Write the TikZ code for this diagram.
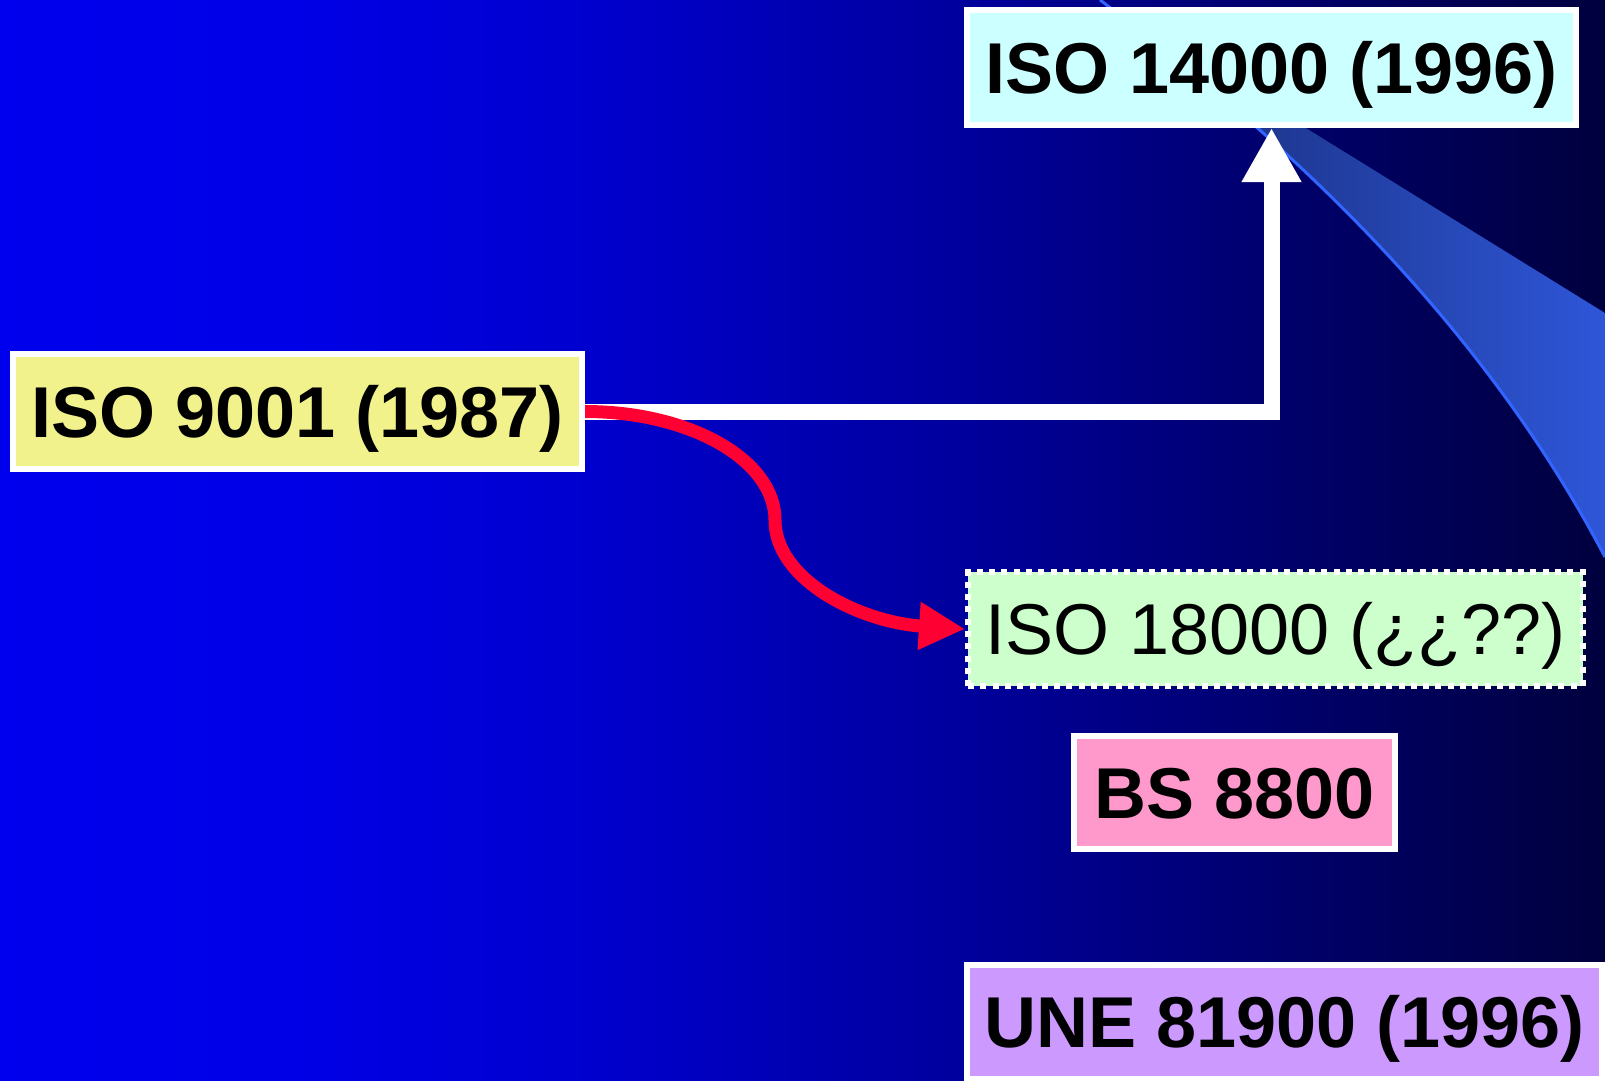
\documentclass[tikz,border=0pt]{standalone}
\usepackage{fontspec}
\setmainfont{Liberation Sans}
\usetikzlibrary{arrows.meta}
\definecolor{bgA}{RGB}{0,0,238}
\definecolor{bgB}{RGB}{0,0,230}
\definecolor{bgC}{RGB}{0,0,205}
\definecolor{bgD}{RGB}{0,0,155}
\definecolor{bgE}{RGB}{0,0,105}
\definecolor{bgF}{RGB}{0,0,62}
\definecolor{fillA}{HTML}{CCFFFF}
\definecolor{fillB}{HTML}{F2F28C}
\definecolor{fillC}{HTML}{CCFFCC}
\definecolor{fillD}{HTML}{FF99CC}
\definecolor{fillE}{HTML}{CC99FF}
\definecolor{conred}{RGB}{255,0,51}
\definecolor{swL}{RGB}{22,40,110}
\definecolor{swR}{RGB}{46,86,216}
\definecolor{swLine}{RGB}{50,100,255}
\pgfdeclarehorizontalshading{bgshade}{100bp}{color(0bp)=(bgA); color(25bp)=(bgA); color(34.35bp)=(bgB); color(43.69bp)=(bgC); color(55.22bp)=(bgD); color(65.5bp)=(bgE); color(75bp)=(bgF); color(100bp)=(bgF)}
\pgfdeclarelayer{bg}
\pgfdeclarelayer{mid}
\pgfsetlayers{bg,mid,main}
\begin{document}
\begin{tikzpicture}[x=1pt,y=-1pt,
  stdbox/.style={draw=white, line width=6pt, inner sep=0pt, text=black,
    font=\fontsize{72}{86}\selectfont\bfseries, text height=51.6pt, text depth=0pt},
  plainbox/.style={stdbox, font=\fontsize{72}{86}\selectfont, dash pattern=on 6pt off 6.3pt},
  whiteconn/.style={draw=white, line width=16pt, -{Triangle[length=54pt,width=56pt]}},
  redconn/.style={draw=conred, line width=13pt, -{Triangle[length=46pt,width=45pt]}}]
\useasboundingbox (0,0) rectangle (1605,1080);
\begin{pgfonlayer}{bg}
  \shade[shading=bgshade] (0,0) rectangle (1605,1080);
  \shade[left color=swL, right color=swR] (1100,0)
     .. controls (1300,150) and (1485,329) .. (1605,557) -- (1605,313) -- (1094,-3) -- cycle;
  \draw[swLine, line width=3pt] (1100,0)
     .. controls (1300,150) and (1485,329) .. (1605,557);
\end{pgfonlayer}
\node[stdbox, fill=fillA, minimum width=609pt, minimum height=115pt] (i14) at (1271.5,67.5) {ISO 14000 (1996)};
\node[stdbox, fill=fillB, minimum width=569pt, minimum height=115pt] (i9) at (297.5,411.5) {ISO 9001 (1987)};
\node[plainbox, fill=fillC, minimum width=614.6pt, minimum height=114pt] (i18) at (1275.3,629) {ISO 18000 (¿¿??)};
\node[stdbox, fill=fillD, minimum width=321pt, minimum height=113pt] (bs) at (1234.5,792.5) {BS 8800};
\node[stdbox, fill=fillE, minimum width=635pt, minimum height=114pt] (une) at (1284.5,1022) {UNE 81900 (1996)};
\begin{pgfonlayer}{mid}
  \draw[whiteconn] (i9.east) -| (i14.south);
  \draw[redconn] (i9.east) .. controls (690,411.5) and (775,460) .. (775,520)
     .. controls (775,580) and (860,622) .. (i18.west);
\end{pgfonlayer}
\end{tikzpicture}
\end{document}
